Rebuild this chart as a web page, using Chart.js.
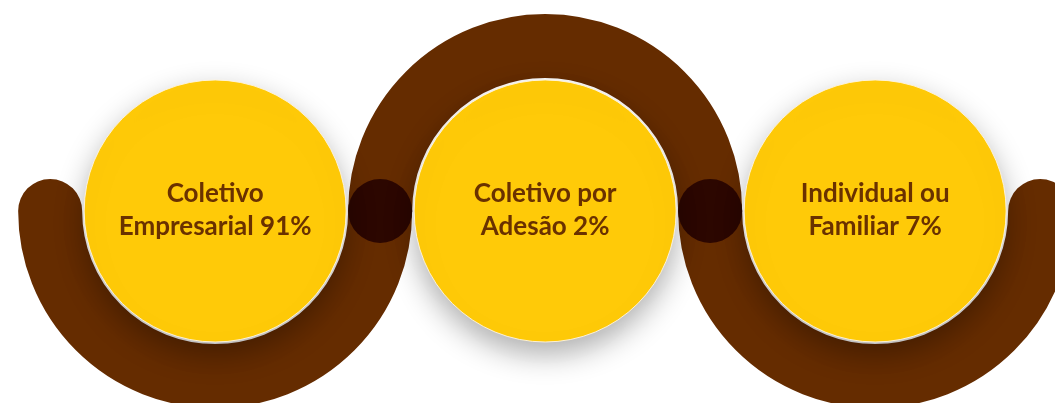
<!DOCTYPE html>
<html lang="pt-BR">
<head>
<meta charset="utf-8">
<script src="https://cdn.jsdelivr.net/npm/chart.js@4.4.1/dist/chart.umd.min.js"></script>
<style>
html,body{margin:0;padding:0;background:#fff;}
#grafico{display:block;}
</style>
</head>
<body>
<canvas id="grafico" width="1055" height="403"></canvas>
<script>
//datos del grafico
const categorias=['Coletivo Empresarial','Coletivo por Adesão','Individual ou Familiar'];
const lineasEtiqueta=[['Coletivo','Empresarial'],['Coletivo por','Adesão'],['Individual ou','Familiar']];
const porcentajes=[91,2,7];

//colores
const amarillo='#FFCA08';
const marron='#652C00';
const marronOscuro='#2C0700';
const colorTexto='#6A3100';

//tamaños en pixeles
const radioCirculo=131;
const radioBanda=165;
const anchoBanda=64;

//puntos: un circulo por categoria y una union entre cada par
const puntosCirculo=categorias.map((c,i)=>({x:i,y:0}));
const puntosUnion=categorias.slice(1).map((c,i)=>({x:i+0.5,y:0}));

//banda marron que serpentea alrededor de los circulos (abajo, arriba, abajo)
const bandaPlugin={
    id:'banda',
    beforeDatasetsDraw(chart)
    {
        const ctx=chart.ctx;
        const puntos=chart.getDatasetMeta(0).data;
        ctx.save();
        ctx.strokeStyle=marron;
        ctx.lineWidth=anchoBanda;
        ctx.lineCap='round';
        puntos.forEach((p,i)=>
        {
            ctx.beginPath();
            if(i%2===0)ctx.arc(p.x,p.y,radioBanda,0,Math.PI);
            else ctx.arc(p.x,p.y,radioBanda,Math.PI,2*Math.PI);
            ctx.stroke();
        });
        ctx.restore();
    }
};

//sombra de los circulos amarillos
const sombraPlugin={
    id:'sombra',
    beforeDatasetDraw(chart,args)
    {
        if(args.index!==0)return;
        const ctx=chart.ctx;
        ctx.save();
        ctx.shadowColor='rgba(0,0,0,0.32)';
        ctx.shadowBlur=30;
        ctx.shadowOffsetX=0;
        ctx.shadowOffsetY=12;
    },
    afterDatasetDraw(chart,args)
    {
        if(args.index!==0)return;
        chart.ctx.restore();
    }
};

//textos dentro de cada circulo
const textoPlugin={
    id:'texto',
    afterDatasetsDraw(chart)
    {
        const ctx=chart.ctx;
        const puntos=chart.getDatasetMeta(0).data;
        ctx.save();
        ctx.fillStyle=colorTexto;
        ctx.font='bold 26px Lato';
        ctx.textAlign='center';
        ctx.textBaseline='alphabetic';
        puntos.forEach((p,i)=>
        {
            ctx.fillText(lineasEtiqueta[i][0],p.x,p.y-9);
            ctx.fillText(`${lineasEtiqueta[i][1]} ${porcentajes[i]}%`,p.x,p.y+24);
        });
        ctx.restore();
    }
};

new Chart(document.getElementById('grafico'),{
    type:'scatter',
    data:{
        datasets:[
            {
                label:'Categorias',
                data:puntosCirculo,
                pointRadius:radioCirculo,
                pointHoverRadius:radioCirculo,
                backgroundColor:amarillo,
                borderColor:'rgba(255,245,225,0.9)',
                borderWidth:1,
                order:0
            },
            {
                label:'Uniones',
                data:puntosUnion,
                pointRadius:anchoBanda/2,
                pointHoverRadius:anchoBanda/2,
                backgroundColor:marronOscuro,
                borderWidth:0,
                order:1
            }
        ]
    },
    options:{
        responsive:false,
        animation:false,
        events:[],
        clip:false,
        layout:{padding:0,autoPadding:false},
        plugins:{legend:{display:false},tooltip:{enabled:false}},
        scales:{
            x:{type:'linear',min:-0.652,max:2.545,display:false},
            y:{type:'linear',min:-0.91,max:1,display:false}
        }
    },
    plugins:[bandaPlugin,sombraPlugin,textoPlugin]
});
</script>
</body>
</html>
